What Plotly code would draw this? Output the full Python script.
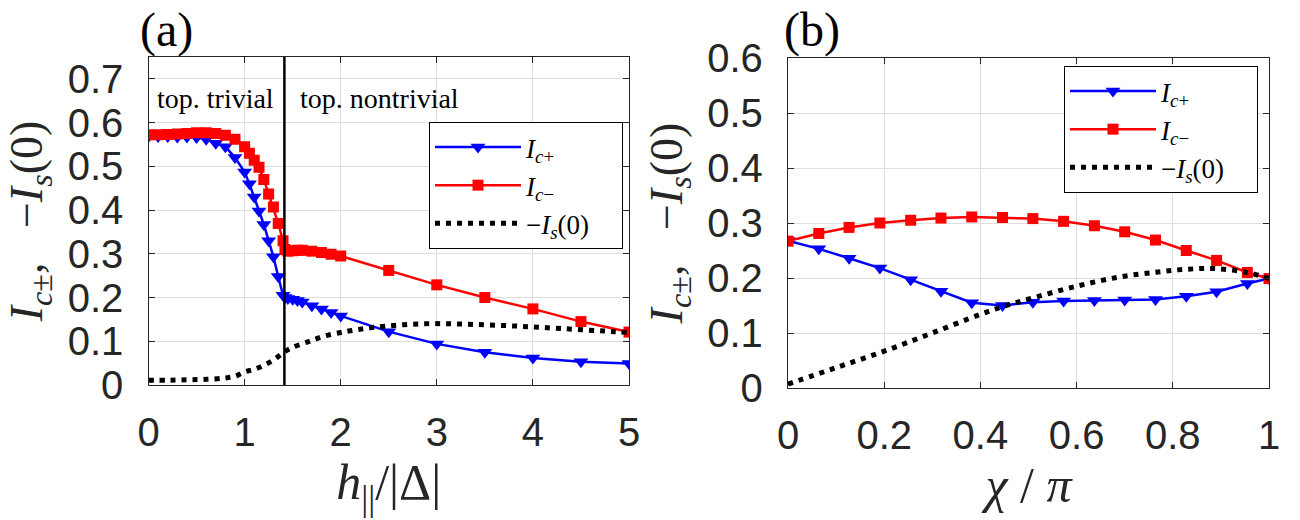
import plotly.graph_objects as go

# ---------------- data: panel (a) ----------------
h_a = [0, 0.1, 0.2, 0.3, 0.4, 0.5, 0.6, 0.7, 0.8, 0.9, 1.0, 1.05, 1.1, 1.15, 1.2, 1.25,
       1.3, 1.35, 1.4, 1.42, 1.45, 1.5, 1.55, 1.6, 1.7, 1.8, 1.9, 2.0, 2.5, 3.0, 3.5,
       4.0, 4.5, 5.0]
Icp_a = [0.568, 0.568, 0.568, 0.567, 0.567, 0.566, 0.562, 0.553, 0.545, 0.52, 0.487,
         0.46, 0.43, 0.398, 0.367, 0.33, 0.293, 0.248, 0.205, 0.2, 0.198, 0.196, 0.193,
         0.19, 0.181, 0.174, 0.166, 0.158, 0.122, 0.094, 0.075, 0.062, 0.053, 0.049]
Icm_a = [0.572, 0.572, 0.573, 0.574, 0.575, 0.577, 0.577, 0.575, 0.571, 0.562, 0.545,
         0.53, 0.514, 0.498, 0.47, 0.437, 0.407, 0.369, 0.33, 0.31, 0.306, 0.307, 0.308,
         0.308, 0.306, 0.303, 0.299, 0.295, 0.262, 0.229, 0.2, 0.174, 0.145, 0.121]
h_s = [0, 0.2, 0.4, 0.6, 0.8, 0.9, 1.0, 1.1, 1.2, 1.3, 1.41, 1.5, 1.65, 1.75, 1.87,
       2.0, 2.1, 2.35, 2.85, 3.3, 3.8, 4.3, 4.85, 5.0]
Is_a = [0.011, 0.011, 0.012, 0.013, 0.016, 0.02, 0.03, 0.036, 0.045, 0.057, 0.075,
        0.086, 0.098, 0.106, 0.114, 0.12, 0.124, 0.132, 0.14, 0.139, 0.135, 0.129,
        0.122, 0.12]
h_crit = 1.414  # topological transition

# ---------------- data: panel (b) ----------------
chi_b = [0, 0.064, 0.127, 0.191, 0.255, 0.318, 0.382, 0.446, 0.509, 0.573, 0.637,
         0.700, 0.764, 0.828, 0.891, 0.955, 1.0]
Icp_b = [0.268, 0.253, 0.236, 0.218, 0.197, 0.176, 0.155, 0.15, 0.156, 0.158, 0.159,
         0.16, 0.161, 0.167, 0.175, 0.19, 0.199]
Icm_b = [0.267, 0.281, 0.292, 0.300, 0.305, 0.309, 0.311, 0.310, 0.308, 0.303, 0.295,
         0.284, 0.269, 0.250, 0.232, 0.210, 0.199]
chi_s = [0, 0.1, 0.2, 0.3, 0.4, 0.45, 0.51, 0.6, 0.69, 0.77, 0.83, 0.89, 0.955, 1.0]
Is_b = [0.007, 0.037, 0.067, 0.1, 0.134, 0.149, 0.164, 0.185, 0.202, 0.211, 0.216,
        0.217, 0.21, 0.199]

x_ticks_a = [0, 1, 2, 3, 4, 5]
y_ticks_a = [0, 0.1, 0.2, 0.3, 0.4, 0.5, 0.6, 0.7]
x_ticks_b = [0, 0.2, 0.4, 0.6, 0.8, 1]
x_ticklabels_b = ["0", "0.2", "0.4", "0.6", "0.8", "1"]
y_ticks_b = [0, 0.1, 0.2, 0.3, 0.4, 0.5, 0.6]

lab_p = "<i>I</i><sub><i>c</i>+</sub>"
lab_m = "<i>I</i><sub><i>c</i>−</sub>"
lab_s = "−<i>I</i><sub><i>s</i></sub>(0)&nbsp;&nbsp;&nbsp;&nbsp;"

BLUE = "#0000FF"
RED = "#FF0000"
SERIF = "Liberation Serif"
SANS = "Liberation Sans"

fig = go.Figure()

def add_panel(xa, ya, legend, xp, yp, xm, ym, xs, ys):
    fig.add_trace(go.Scatter(x=xp, y=yp, mode="lines+markers", name=lab_p,
                             xaxis=xa, yaxis=ya, legend=legend,
                             line=dict(color=BLUE, width=2.5),
                             marker=dict(symbol="triangle-down", size=13, color=BLUE)))
    fig.add_trace(go.Scatter(x=xm, y=ym, mode="lines+markers", name=lab_m,
                             xaxis=xa, yaxis=ya, legend=legend,
                             line=dict(color=RED, width=2.5),
                             marker=dict(symbol="square", size=11, color=RED)))
    fig.add_trace(go.Scatter(x=xs, y=ys, mode="lines", name=lab_s,
                             xaxis=xa, yaxis=ya, legend=legend, line_shape="spline",
                             line=dict(color="black", width=5, dash="5px,6px")))

add_panel("x", "y", "legend", h_a, Icp_a, h_a, Icm_a, h_s, Is_a)
add_panel("x2", "y2", "legend2", chi_b, Icp_b, chi_b, Icm_b, chi_s, Is_b)

W, H = 1300, 520
dom_xa = [148.5 / W, 629 / W]
dom_ya = [1 - 385 / H, 1 - 57 / H]
dom_xb = [788 / W, 1269 / W]
dom_yb = [1 - 388 / H, 1 - 58 / H]

axis_common = dict(showgrid=True, gridcolor="#dedede", gridwidth=1,
                   showline=True, linecolor="#262626", linewidth=1.3,
                   mirror="ticks", ticks="inside", ticklen=6, tickcolor="#262626",
                   zeroline=False, automargin=False,
                   tickfont=dict(family=SANS, size=40, color="#262626"))

ytitle = dict(text="<i>I</i><sub><i>c</i>±</sub>,&nbsp;&nbsp; −<i>I</i><sub><i>s</i></sub>(0)",
              font=dict(family=SERIF, size=46, color="#262626"))

legend_common = dict(xanchor="left", yanchor="top", bgcolor="white",
                     bordercolor="black", borderwidth=1,
                     font=dict(family=SERIF, size=27, color="black"),
                     itemwidth=86, tracegroupgap=0)

fig.update_layout(
    width=W, height=H, margin=dict(l=0, r=0, t=0, b=0, pad=0, autoexpand=False),
    plot_bgcolor="white", paper_bgcolor="white",
    xaxis=dict(domain=dom_xa, range=[0, 5], tickvals=x_ticks_a, anchor="y",
               ticklabelstandoff=12,
               title=dict(text="<i>h</i><sub>||</sub>/|Δ|",
                          font=dict(family=SERIF, size=50, color="#262626"), standoff=4),
               **axis_common),
    yaxis=dict(domain=dom_ya, range=[0, 0.75], tickvals=y_ticks_a, anchor="x",
               ticklabelstandoff=16, title=dict(standoff=10, **ytitle), **axis_common),
    xaxis2=dict(domain=dom_xb, range=[0, 1], tickvals=x_ticks_b, ticktext=x_ticklabels_b,
                anchor="y2", ticklabelstandoff=12,
                title=dict(text="<i>χ</i> / <i>π</i>",
                           font=dict(family=SERIF, size=50, color="#262626"), standoff=4),
                **axis_common),
    yaxis2=dict(domain=dom_yb, range=[0, 0.6], tickvals=y_ticks_b, anchor="x2",
                ticklabelstandoff=16, title=dict(standoff=10, **ytitle), **axis_common),
    legend=dict(x=429 / W, y=1 - 122 / H, **legend_common),
    legend2=dict(x=1064 / W, y=1 - 66 / H, **legend_common),
    showlegend=True,
)

# transition line
fig.add_shape(type="line", xref="x", yref="y domain", x0=h_crit, x1=h_crit, y0=0, y1=1,
              line=dict(color="black", width=2.5))

# region labels
fig.add_annotation(xref="x", yref="y", x=0.07, y=0.656, xanchor="left", yanchor="middle",
                   text="top. trivial", showarrow=False,
                   font=dict(family=SERIF, size=28, color="black"))
fig.add_annotation(xref="x", yref="y", x=1.556, y=0.656, xanchor="left", yanchor="middle",
                   text="top. nontrivial", showarrow=False,
                   font=dict(family=SERIF, size=28, color="black"))

# panel labels
fig.add_annotation(xref="paper", yref="paper", x=138 / W, y=1 - 1 / H, xanchor="left",
                   yanchor="top", text="(a)", showarrow=False,
                   font=dict(family=SERIF, size=48, color="black"))
fig.add_annotation(xref="paper", yref="paper", x=782 / W, y=1 - 1 / H, xanchor="left",
                   yanchor="top", text="(b)", showarrow=False,
                   font=dict(family=SERIF, size=48, color="black"))

fig.write_html("out.html")
